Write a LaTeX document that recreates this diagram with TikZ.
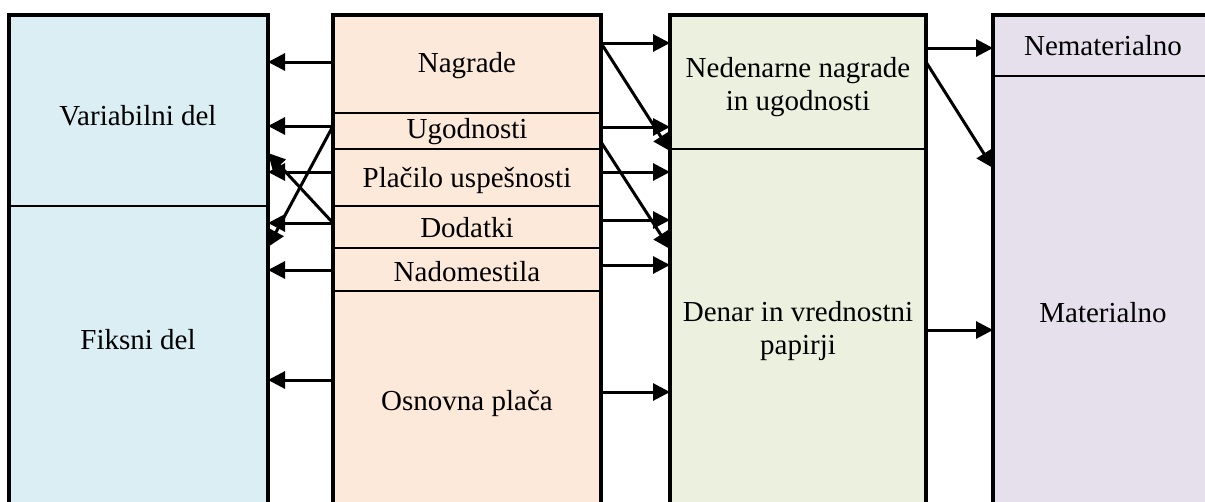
\documentclass[tikz,border=0pt]{standalone}
\usepackage{fontspec}
\setmainfont{Liberation Serif}
\usetikzlibrary{arrows.meta}
\definecolor{cblue}{HTML}{DAEEF3}
\definecolor{corange}{HTML}{FDE9D9}
\definecolor{cgreen}{HTML}{EBF1DE}
\definecolor{cpurple}{HTML}{E5E0EC}
\begin{document}
\begin{tikzpicture}[x=1pt,y=-1pt,
  sec/.style={draw, line width=1.2pt, inner sep=0pt, outer sep=0pt, anchor=north west},
  frame/.style={draw, line width=3.2pt},
  thickdiv/.style={line width=2.4pt},
  lbl/.style={font=\fontsize{29}{33}\selectfont, align=center, inner sep=0pt},
  arr/.style={line width=3pt, -{Triangle[length=17pt,width=17pt]}},
  ]
\useasboundingbox (0,0) rectangle (1205,501);
\clip (0,0) rectangle (1205,501);
% blue column
\node[sec, fill=cblue, minimum width=259pt, minimum height=191pt] (var) at (9,15) {};
\node[sec, fill=cblue, minimum width=259pt, minimum height=330pt] (fix) at (9,206) {};
% orange column
\node[sec, fill=corange, minimum width=268pt, minimum height=98pt] (nagr) at (333,15) {};
\node[sec, fill=corange, minimum width=268pt, minimum height=36pt] (ugod) at (333,113) {};
\node[sec, fill=corange, minimum width=268pt, minimum height=57pt] (plac) at (333,149) {};
\node[sec, fill=corange, minimum width=268pt, minimum height=42pt] (dod) at (333,206) {};
\node[sec, fill=corange, minimum width=268pt, minimum height=43pt] (nad) at (333,248) {};
\node[sec, fill=corange, minimum width=268pt, minimum height=245pt] (osn) at (333,291) {};
% green column
\node[sec, fill=cgreen, minimum width=256pt, minimum height=134pt] (ned) at (670,15) {};
\node[sec, fill=cgreen, minimum width=256pt, minimum height=387pt] (den) at (670,149) {};
% purple column
\node[sec, fill=cpurple, minimum width=240pt, minimum height=61pt] (nem) at (993,15) {};
\node[sec, fill=cpurple, minimum width=240pt, minimum height=460pt] (mat) at (993,76) {};
% thicker dividers
\draw[thickdiv] (fix.north west) -- (fix.north east);
\draw[thickdiv] (dod.north west) -- (dod.north east);
\draw[thickdiv] (osn.north west) -- (osn.north east);
\draw[thickdiv] (mat.north west) -- (mat.north east);
% frames
\draw[frame] (var.north west) rectangle (fix.south east);
\draw[frame] (nagr.north west) rectangle (osn.south east);
\draw[frame] (ned.north west) rectangle (den.south east);
\draw[frame] (nem.north west) rectangle (mat.south east);
% labels
\node[lbl] (tvar) at (138,116) {Variabilni del};
\node[lbl] (tfix) at (138,340) {Fiksni del};
\node[lbl] (tnagr) at (467,66) {Nagrade};
\node[lbl] (tugod) at (467,132) {Ugodnosti};
\node[lbl] (tplac) at (467,180) {Plačilo uspešnosti};
\node[lbl] (tdod) at (467,228) {Dodatki};
\node[lbl] (tnad) at (467,272) {Nadomestila};
\node[lbl] (tosn) at (467,403) {Osnovna plača};
\node[lbl] (tned) at (798,87) {Nedenarne nagrade\\in ugodnosti};
\node[lbl] (tden) at (798,331) {Denar in vrednostni\\papirji};
\node[lbl] (tnem) at (1103,46) {Nematerialno};
\node[lbl] (tmat) at (1103,313) {Materialno};
% arrows to the left
\draw[arr] (nagr.west |- 0,62) -- (var.east |- 0,62);
\draw[arr] (ugod.west |- 0,126) -- (var.east |- 0,126);
\draw[arr] (plac.west |- 0,172) -- (var.east |- 0,172);
\draw[arr] (dod.west |- 0,223) -- (fix.east |- 0,223);
\draw[arr] (nad.west |- 0,270) -- (fix.east |- 0,270);
\draw[arr] (osn.west |- 0,380) -- (fix.east |- 0,380);
\draw[arr] (ugod.west |- 0,126) -- (fix.east |- 0,247);
\draw[arr] (dod.west |- 0,223) -- (var.east |- 0,153);
% arrows to the right
\draw[arr] (nagr.east |- 0,43) -- (ned.west |- 0,43);
\draw[arr] (nagr.east |- 0,43) -- (ned.west |- 0,151);
\draw[arr] (ugod.east |- 0,127) -- (ned.west |- 0,127);
\draw[arr] (ugod.east |- 0,142) -- (den.west |- 0,249);
\draw[arr] (plac.east |- 0,172) -- (den.west |- 0,172);
\draw[arr] (dod.east |- 0,220) -- (den.west |- 0,220);
\draw[arr] (nad.east |- 0,265) -- (den.west |- 0,265);
\draw[arr] (osn.east |- 0,392) -- (den.west |- 0,392);
% green to purple
\draw[arr] (ned.east |- 0,48) -- (nem.west |- 0,48);
\draw[arr] (ned.east |- 0,62) -- (mat.west |- 0,168);
\draw[arr] (den.east |- 0,330) -- (mat.west |- 0,330);
\end{tikzpicture}
\end{document}
